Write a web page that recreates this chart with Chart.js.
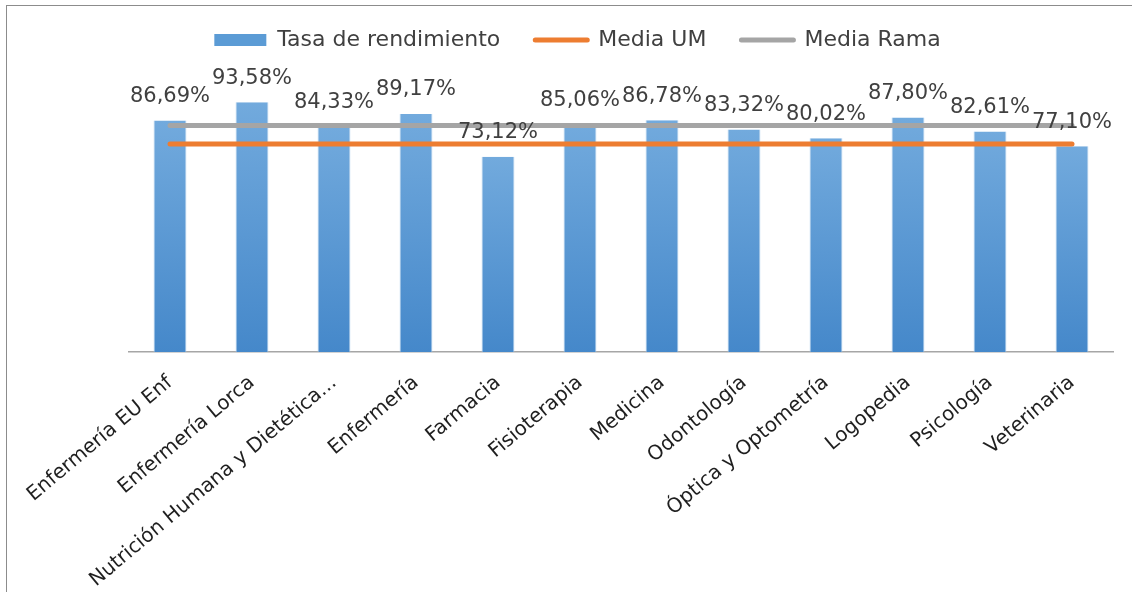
<!DOCTYPE html>
<html>
<head>
<meta charset="utf-8">
<style>
  html, body { margin: 0; padding: 0; background: #fff; overflow: hidden; }
  #wrap { position: relative; width: 1132px; height: 592px; }
  #frame { position: absolute; left: 6px; top: 5px; width: 1200px; height: 700px; border: 1px solid #8c8c8c; box-sizing: border-box; }
  #rendimientoChart { position: absolute; left: 0; top: 0; }
</style>
</head>
<body>
<div id="wrap">
  <div id="frame"></div>
  <canvas id="rendimientoChart" width="1132" height="592"></canvas>
</div>

<script src="https://cdn.jsdelivr.net/npm/chart.js"></script>
<script>
  const titulaciones = [
    'Enfermería EU Enf', 'Enfermería Lorca', 'Nutrición Humana y Dietética...', 'Enfermería',
    'Farmacia', 'Fisioterapia', 'Medicina', 'Odontología',
    'Óptica y Optometría', 'Logopedia', 'Psicología', 'Veterinaria'
  ];
  const tasaRendimiento = [86.69, 93.58, 84.33, 89.17, 73.12, 85.06, 86.78, 83.32, 80.02, 87.80, 82.61, 77.10];
  const mediaUM = [77.9, 77.9, 77.9, 77.9, 77.9, 77.9, 77.9, 77.9, 77.9, 77.9, 77.9, 77.9];
  const mediaRama = [84.8, 84.8, 84.8, 84.8, 84.8, 84.8, 84.8, 84.8, 84.8, 84.8, 84.8, 84.8];

  const FONT = '"DejaVu Sans", sans-serif';

  // labels above the bars, like Excel's data labels
  const barLabels = {
    id: 'barLabels',
    afterDatasetsDraw(chart) {
      const ctx = chart.ctx;
      const meta = chart.getDatasetMeta(0);
      ctx.save();
      ctx.font = '21px ' + FONT;
      ctx.fillStyle = '#404040';
      ctx.textAlign = 'center';
      ctx.textBaseline = 'middle';
      meta.data.forEach((bar, i) => {
        const txt = tasaRendimiento[i].toFixed(2).replace('.', ',') + '%';
        ctx.fillText(txt, bar.x, bar.y - 24);
      });
      ctx.restore();
    }
  };

  const ctx = document.getElementById('rendimientoChart').getContext('2d');
  new Chart(ctx, {
    type: 'bar',
    data: {
      labels: titulaciones,
      datasets: [
        {
          label: 'Tasa de rendimiento',
          data: tasaRendimiento,
          order: 3,
          backgroundColor: c => {
            const chart = c.chart;
            if (!chart.chartArea || c.raw == null) return '#5b9bd5';
            const y = chart.scales.y;
            const g = chart.ctx.createLinearGradient(0, y.getPixelForValue(c.raw), 0, y.getPixelForValue(0));
            g.addColorStop(0, '#72aadd');
            g.addColorStop(1, '#4588ca');
            return g;
          },
          borderColor: '#a8caea',
          borderWidth: { left: 1, right: 1, top: 0, bottom: 0 },
          barPercentage: 0.4,
          categoryPercentage: 1
        },
        {
          type: 'line',
          label: 'Media UM',
          data: mediaUM,
          order: 1,
          borderColor: '#ed7d31',
          borderWidth: 5,
          borderCapStyle: 'round',
          pointRadius: 0,
          fill: false
        },
        {
          type: 'line',
          label: 'Media Rama',
          data: mediaRama,
          order: 2,
          borderColor: '#a5a5a5',
          borderWidth: 5,
          borderCapStyle: 'round',
          pointRadius: 0,
          fill: false
        }
      ]
    },
    options: {
      responsive: false,
      animation: false,
      layout: { padding: { left: 42, right: 19, top: -6, bottom: 0 } },
      plugins: {
        tooltip: { enabled: false },
        legend: {
          position: 'top',
          labels: {
            usePointStyle: true,
            pointStyleWidth: 52,
            boxHeight: 12,
            padding: 35,
            color: '#404040',
            font: { family: FONT, size: 22 },
            sort: (a, b) => a.datasetIndex - b.datasetIndex,
            generateLabels: chart => Chart.defaults.plugins.legend.labels.generateLabels(chart).map(item => {
              if (item.datasetIndex === 0) {
                item.pointStyle = 'rect';
                item.fillStyle = '#5b9bd5';
                item.lineWidth = 0;
              } else {
                item.pointStyle = 'line';
                item.lineWidth = 5;
                item.lineCap = 'round';
              }
              return item;
            })
          }
        }
      },
      scales: {
        x: {
          grid: { display: false, drawTicks: false },
          border: { display: true, color: '#a6a6a6', width: 1.5 },
          ticks: {
            color: '#1f1f1f',
            font: { family: FONT, size: 20 },
            minRotation: 40,
            maxRotation: 40,
            autoSkip: false,
            padding: 19
          },
          afterFit(s) { s.height = 240; }
        },
        // empty band between the legend and the plot
        xTop: {
          type: 'category',
          position: 'top',
          grid: { display: false, drawTicks: false },
          border: { display: false },
          ticks: { display: false },
          afterFit(s) { s.height = 24; }
        },
        y: {
          min: 0,
          max: 100,
          grid: { display: false, drawTicks: false },
          border: { display: false },
          ticks: { display: false },
          afterFit(s) { s.width = 87; }
        }
      }
    },
    plugins: [barLabels]
  });
</script>
</body>
</html>
